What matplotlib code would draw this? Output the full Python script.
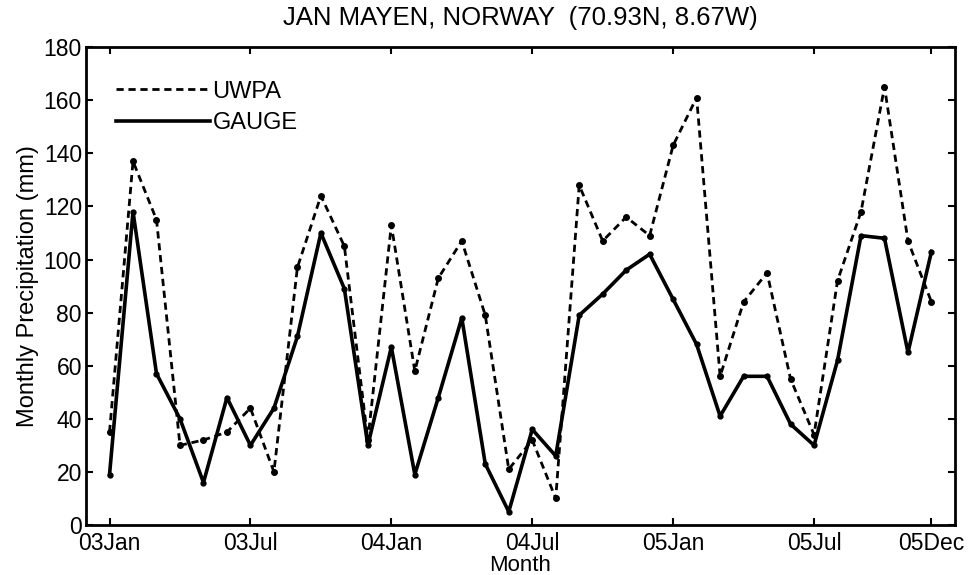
import matplotlib
matplotlib.use("Agg")
import matplotlib.pyplot as plt

months = list(range(36))
tick_pos = [0, 6, 12, 18, 24, 30, 35]
tick_labels = ["03Jan", "03Jul", "04Jan", "04Jul", "05Jan", "05Jul", "05Dec"]

uwpa = [35, 137, 115, 30, 32, 35, 44, 20, 97, 124, 105, 32,
        113, 58, 93, 107, 79, 21, 32, 10, 128, 107, 116, 109,
        143, 161, 56, 84, 95, 55, 34, 92, 118, 165, 107, 84]
gauge = [19, 118, 57, 40, 16, 48, 30, 44, 71, 110, 89, 30,
         67, 19, 48, 78, 23, 5, 36, 26, 79, 87, 96, 102,
         85, 68, 41, 56, 56, 38, 30, 62, 109, 108, 65, 103]

plt.rcParams["font.family"] = ["Liberation Sans", "DejaVu Sans"]

fig = plt.figure(figsize=(9.69, 5.75), dpi=100)
ax = fig.add_axes([0.0888, 0.087, 0.8967, 0.831])

ax.plot(months, uwpa, color="black", lw=2.0, linestyle=(0, (2.6, 1.7)),
        marker="o", markersize=4, label="UWPA")
ax.plot(months, gauge, color="black", lw=2.6, linestyle="-",
        marker="o", markersize=3.5, label="GAUGE")

ax.set_xlim(-1, 36)
ax.set_ylim(0, 180)
ax.set_xticks(tick_pos)
ax.set_xticklabels(tick_labels)
ax.set_yticks(range(0, 181, 20))
ax.tick_params(direction="in", top=True, right=True, length=5, width=1.5,
               labelsize=16.5)
ax.tick_params(axis="x", pad=5)
ax.tick_params(axis="y", pad=3)
for s in ax.spines.values():
    s.set_linewidth(2)

ax.set_title("JAN MAYEN, NORWAY  (70.93N, 8.67W)", fontsize=18.5, pad=16)
ax.set_xlabel("Month", fontsize=16, labelpad=0)
ax.set_ylabel("Monthly Precipitation (mm)", fontsize=17, labelpad=3)

leg = ax.legend(loc="upper left", bbox_to_anchor=(0.034, 0.93), frameon=False,
                fontsize=17, handlelength=4.0, handletextpad=0.1,
                borderaxespad=0, borderpad=0, labelspacing=0.4)
for h in leg.legend_handles:
    h.set_marker("")

fig.savefig("out.png", dpi=100)
